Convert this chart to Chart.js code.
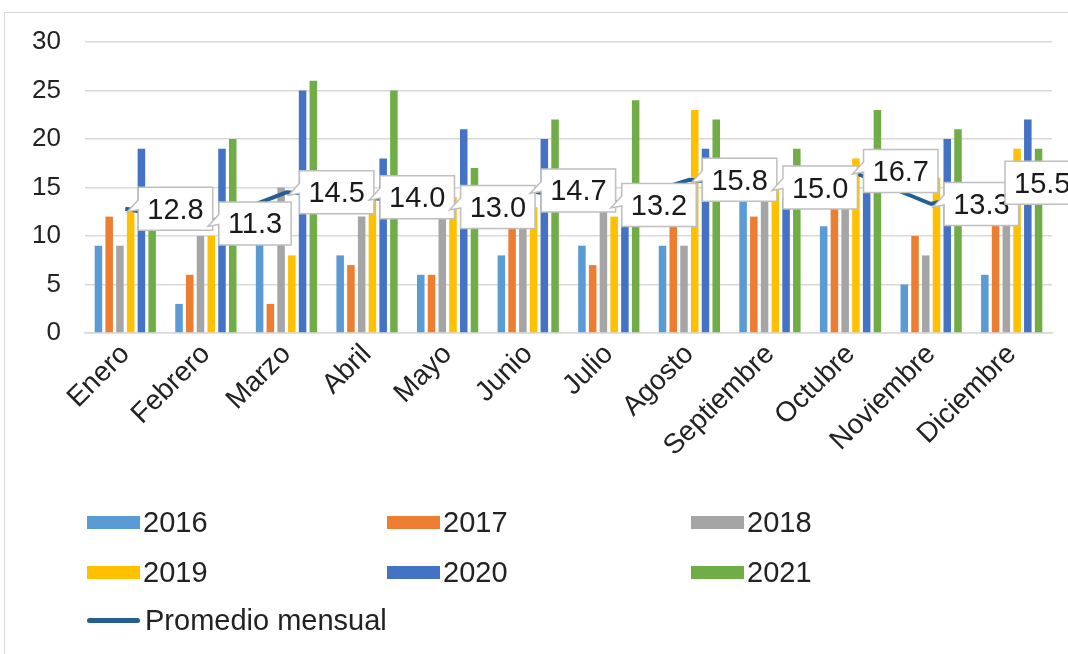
<!DOCTYPE html>
<html>
<head>
<meta charset="utf-8">
<script src="https://cdn.jsdelivr.net/npm/chart.js@4.4.1/dist/chart.umd.min.js"></script>
<style>
  html, body { margin:0; padding:0; background:#fff; overflow:hidden; }
  #wrap { position:relative; width:1068px; height:654px; overflow:hidden; }
  #frame { position:absolute; left:4px; top:12px; width:1200px; height:800px; border:1.5px solid #D9D9D9; box-sizing:border-box; }
  #c { position:absolute; left:0; top:0; }
  #legend { position:absolute; left:0; top:0; width:1068px; height:654px; pointer-events:none;
            font-family:"Liberation Sans", Arial, sans-serif; font-size:29px; color:#222; }
  .item { position:absolute; display:flex; align-items:center; height:34px; }
  .sw { width:53px; height:13px; margin-right:3px; }
  .ln { width:53px; height:5px; border-radius:3px; margin-right:5px; }
</style>
</head>
<body>
<div id="wrap">
  <div id="frame"></div>
  <canvas id="c" width="1068" height="654"></canvas>
  <div id="legend"></div>
</div>
<script>
const categories = ['Enero','Febrero','Marzo','Abril','Mayo','Junio','Julio','Agosto','Septiembre','Octubre','Noviembre','Diciembre'];
const seriesNames = ['2016','2017','2018','2019','2020','2021'];
const v2016 = [9, 3, 10, 8, 6, 8, 9, 9, 15, 11, 5, 6];
const v2017 = [12, 6, 3, 7, 6, 12, 7, 13, 12, 15, 10, 13];
const v2018 = [9, 10, 15, 12, 14, 13, 13, 9, 15, 16, 8, 14];
const v2019 = [13, 10, 8, 14, 14, 13, 12, 23, 15, 18, 16, 19];
const v2020 = [19, 19, 25, 18, 21, 20, 14, 19, 14, 17, 20, 22];
const v2021 = [15, 20, 26, 25, 17, 22, 24, 22, 19, 23, 21, 19];
const promedio = [12.8, 11.3, 14.5, 14.0, 13.0, 14.7, 13.2, 15.8, 15.0, 16.7, 13.3, 15.5];
const lineName = 'Promedio mensual';
const yTickValues = [0, 5, 10, 15, 20, 25, 30];

const colors = ['#5B9BD5', '#ED7D31', '#A5A5A5', '#FFC000', '#4472C4', '#70AD47'];
const lineColor = '#255E91';
const FONT = '"Liberation Sans", Arial, sans-serif';
const seriesValues = [v2016, v2017, v2018, v2019, v2020, v2021];

const datasets = seriesValues.map((vals, i) => ({
  type: 'bar',
  label: seriesNames[i],
  data: vals,
  backgroundColor: colors[i],
  categoryPercentage: 0.8,
  barPercentage: 0.7,
  order: 2
}));
datasets.push({
  type: 'line',
  label: lineName,
  data: promedio,
  borderColor: lineColor,
  borderWidth: 4,
  pointRadius: 0,
  tension: 0,
  fill: false,
  order: 1
});

const calloutPlugin = {
  id: 'callouts',
  afterDatasetsDraw(chart) {
    const idx = chart.data.datasets.length - 1;
    const meta = chart.getDatasetMeta(idx);
    const ctx = chart.ctx;
    ctx.save();
    ctx.font = '29px ' + FONT;
    meta.data.forEach((pt, i) => {
      const txt = promedio[i].toFixed(1);
      const tw = ctx.measureText(txt).width;
      const w = tw + 18, h = 43;
      const left = Math.min(pt.x + 13, chart.width - 63);
      const top = pt.y - h / 2;
      ctx.beginPath();
      if (left > pt.x + 4) {
        ctx.moveTo(left, top);
        ctx.lineTo(left + w, top);
        ctx.lineTo(left + w, top + h);
        ctx.lineTo(left, top + h);
        ctx.lineTo(left, pt.y + 1);
        ctx.lineTo(pt.x + 2, pt.y + 3);
        ctx.lineTo(left, pt.y - 9);
        ctx.closePath();
      } else {
        ctx.rect(left, top, w, h);
      }
      ctx.fillStyle = '#fff';
      ctx.fill();
      ctx.strokeStyle = '#BFBFBF';
      ctx.lineWidth = 1.5;
      ctx.stroke();
      ctx.fillStyle = '#1a1a1a';
      ctx.textAlign = 'left';
      ctx.textBaseline = 'middle';
      ctx.fillText(txt, left + 9, pt.y + 2);
    });
    ctx.restore();
  }
};

new Chart(document.getElementById('c'), {
  data: { labels: categories, datasets },
  options: {
    responsive: false,
    animation: false,
    devicePixelRatio: 1,
    layout: { padding: { top: 42, right: 16, left: 0, bottom: 0 } },
    plugins: { legend: { display: false }, tooltip: { enabled: false } },
    scales: {
      x: {
        grid: { display: false, drawTicks: false },
        border: { display: true, color: '#D9D9D9', width: 1.5 },
        ticks: {
          font: { family: FONT, size: 28 }, color: '#222',
          minRotation: 45, maxRotation: 45, autoSkip: false, padding: 5
        },
        afterFit(axis) { axis.height = 654 - 333; }
      },
      y: {
        min: 0, max: 30,
        afterBuildTicks(axis) { axis.ticks = yTickValues.map(v => ({ value: v })); },
        grid: { color: '#D9D9D9', lineWidth: 1.5, drawTicks: false },
        border: { display: false },
        ticks: { font: { family: FONT, size: 26 }, color: '#222', padding: 24 },
        afterFit(axis) { axis.width = 85; }
      }
    }
  },
  plugins: [calloutPlugin]
});

// HTML legend
const legend = document.getElementById('legend');
const colX = [87, 387, 691];
const rowY = [505, 555, 603];
seriesNames.forEach((name, i) => {
  const d = document.createElement('div');
  d.className = 'item';
  d.style.left = colX[i % 3] + 'px';
  d.style.top = rowY[Math.floor(i / 3)] + 'px';
  d.innerHTML = '<span class="sw" style="background:' + colors[i] + '"></span><span>' + name + '</span>';
  legend.appendChild(d);
});
const dl = document.createElement('div');
dl.className = 'item';
dl.style.left = colX[0] + 'px';
dl.style.top = rowY[2] + 'px';
dl.innerHTML = '<span class="ln" style="background:' + lineColor + '"></span><span>' + lineName + '</span>';
legend.appendChild(dl);
</script>
</body>
</html>
